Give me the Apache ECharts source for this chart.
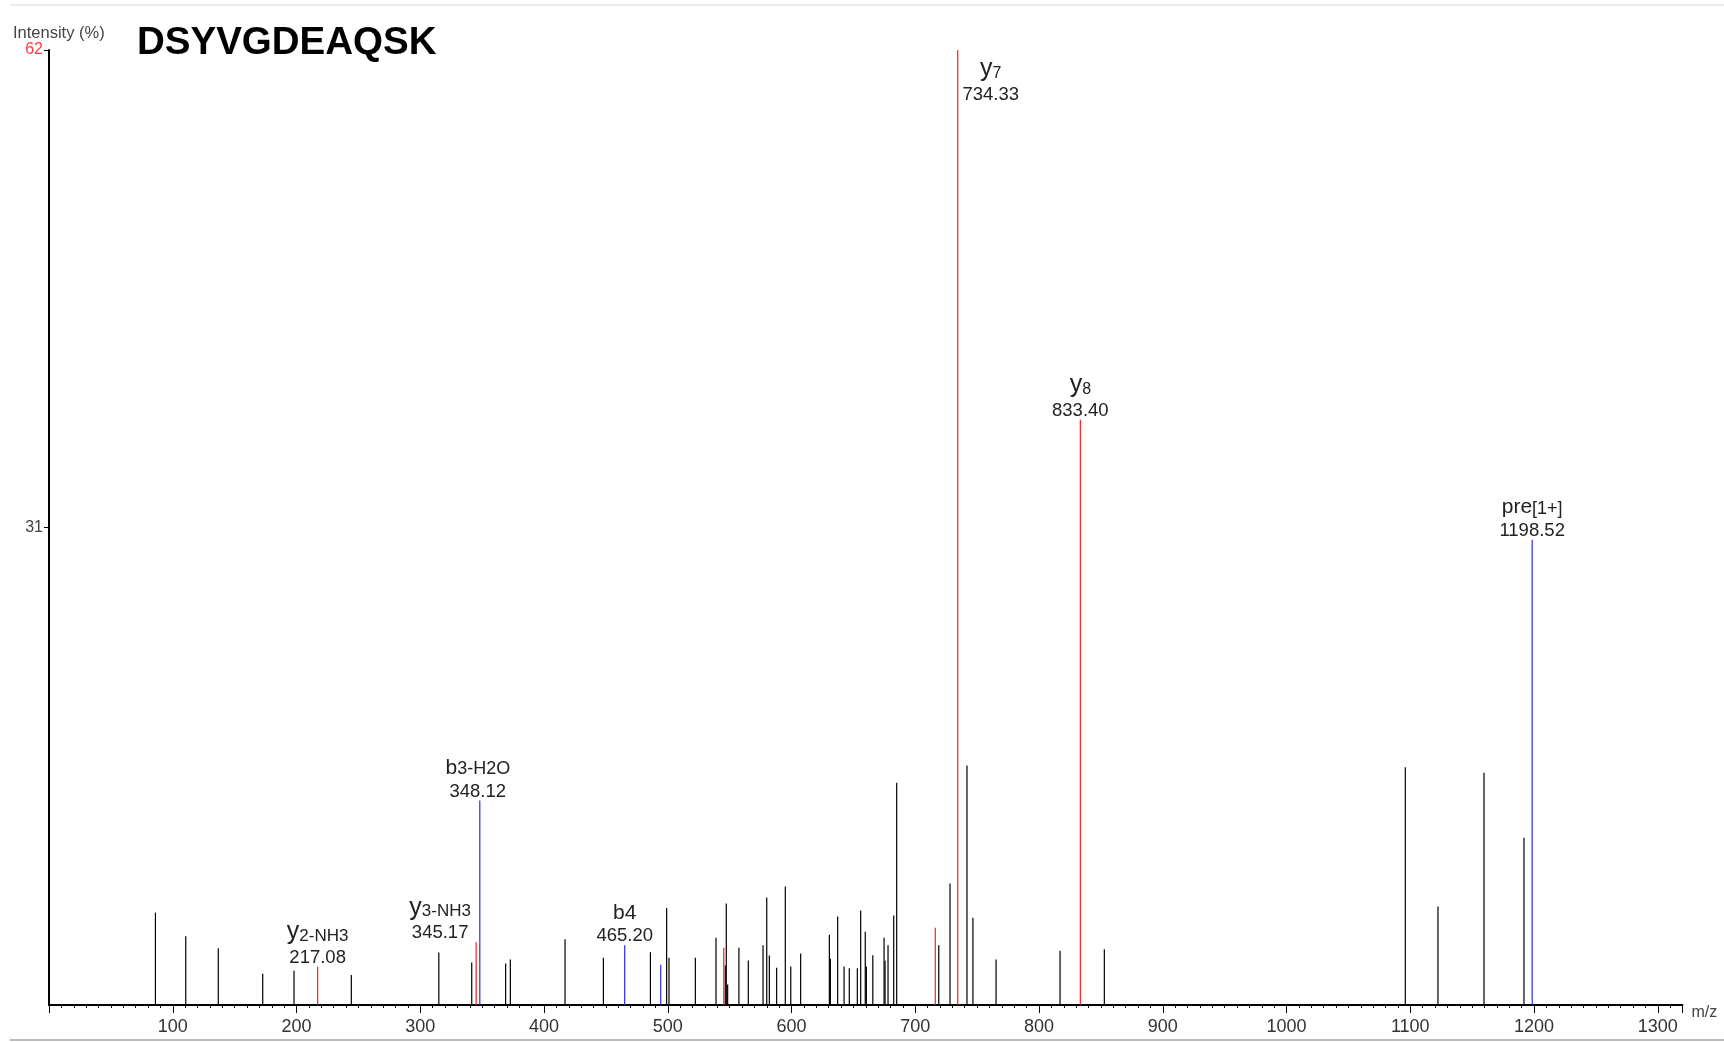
<!DOCTYPE html>
<html>
<head>
<meta charset="utf-8">
<script src="https://cdn.jsdelivr.net/npm/echarts@6/dist/echarts.min.js"></script>
<style>
html,body{margin:0;padding:0;background:#fff;}
#chart{width:1724px;height:1042px;}
</style>
</head>
<body>
<div id="chart"></div>
<script>
// ---------------- data ----------------
const peptide = 'DSYVGDEAQSK';
const yAxisTicks = [31, 62];
const xTickStep = 100;

// unassigned peaks (black)
const otherMz = [86.0, 110.5, 136.8, 172.7, 198.0, 244.3, 315.0, 341.6, 369.0, 372.8,
  417.0, 448.0, 486.0, 499.1, 501.0, 522.3, 539.0, 546.5, 547.3, 548.4,
  557.5, 565.1, 577.0, 580.0, 582.1, 588.0, 595.0, 599.4, 607.4, 630.6,
  631.4, 637.3, 642.5, 646.7, 653.2, 655.9, 659.6, 660.5, 665.7, 674.8,
  675.6, 678.0, 682.6, 685.0, 719.0, 728.1, 741.8, 746.6, 765.3, 817.0,
  852.8, 1096.0, 1122.4, 1159.6, 1191.9];
const otherInt = [6.0, 4.47, 3.69, 2.03, 2.22, 1.94, 3.41, 2.76, 2.69, 2.95,
  4.27, 3.06, 3.43, 6.29, 3.06, 3.06, 4.36, 2.56, 6.59, 1.33,
  3.71, 2.89, 3.88, 6.98, 3.21, 2.42, 7.69, 2.5, 3.34, 4.56,
  3.0, 5.75, 2.5, 2.39, 2.39, 6.14, 4.75, 2.5, 3.23, 4.36,
  2.87, 3.88, 5.81, 14.43, 3.88, 7.89, 15.55, 5.66, 2.95, 3.52,
  3.62, 15.44, 6.4, 15.08, 10.86];

// y-type ions (red)
const yIonMz = [217.08, 345.17, 545.3, 716.2, 734.33, 833.40];
const yIonInt = [2.48, 4.08, 3.71, 5.01, 62, 38.0];

// b-type ions and precursor (blue)
const bIonMz = [348.12, 465.20, 494.3, 1198.52];
const bIonInt = [13.28, 3.88, 2.61, 30.2];

// annotations
const annMz = [217.08, 345.17, 348.12, 465.20, 734.33, 833.40, 1198.52];
const annInt = [2.48, 4.08, 13.28, 3.88, 62, 38.0, 30.2];
const annIon = ['y', 'y', 'b', 'b4', 'y', 'y', 'pre'];
const annSuffix = ['2-NH3', '3-NH3', '3-H2O', '', '7', '8', '[1+]'];
const annValue = ['217.08', '345.17', '348.12', '465.20', '734.33', '833.40', '1198.52'];

// ---------------- chart ----------------
const FONT = '"Liberation Sans", Arial, Helvetica, sans-serif';
const chart = echarts.init(document.getElementById('chart'), null, {renderer: 'canvas'});

function stickSeries(name, mz, inten, color, width) {
  return {
    type: 'custom',
    name: name,
    data: mz.map((m, i) => [m, inten[i]]),
    encode: {x: 0, y: 1},
    z: 3,
    renderItem: function (params, api) {
      const p0 = api.coord([api.value(0), 0]);
      const p1 = api.coord([api.value(0), api.value(1)]);
      return {
        type: 'line',
        shape: {x1: p0[0], y1: p0[1], x2: p1[0], y2: p1[1]},
        style: {stroke: color, lineWidth: width}
      };
    }
  };
}

const richName = {
  yy: {fontSize: 25, fontFamily: FONT, color: '#222', lineHeight: 26, verticalAlign: 'bottom'},
  bb: {fontSize: 21, fontFamily: FONT, color: '#222', lineHeight: 22, verticalAlign: 'bottom'},
  sub: {fontSize: 17, fontFamily: FONT, color: '#222', lineHeight: 10, verticalAlign: 'bottom'},
  dig: {fontSize: 16, fontFamily: FONT, color: '#222', lineHeight: 10, verticalAlign: 'bottom'},
  suf: {fontSize: 18, fontFamily: FONT, color: '#222', lineHeight: 20, verticalAlign: 'bottom'},
  sm: {fontSize: 18, fontFamily: FONT, color: '#222', lineHeight: 21, verticalAlign: 'bottom'}
};

function nameText(i) {
  const ion = annIon[i];
  const suf = annSuffix[i];
  if (ion === 'y') return '{yy|y}{' + (suf.length === 1 ? 'dig' : 'sub') + '|' + suf + '}';
  if (ion === 'b') return '{bb|b}{suf|' + suf + '}';
  if (ion === 'pre') return '{bb|pre}{sm|' + suf + '}';
  return '{bb|' + ion + '}';
}

const labelSeries = {
  type: 'custom',
  name: 'labels',
  data: annMz.map((m, i) => [m, annInt[i], i]),
  encode: {x: 0, y: 1},
  z: 5,
  renderItem: function (params, api) {
    const i = api.value(2);
    const p = api.coord([api.value(0), api.value(1)]);
    let cx = p[0];
    let vy = p[1] - 9;
    if (annValue[i] === '734.33') { cx = p[0] + 33; vy = p[1] + 45; }
    if (annValue[i] === '345.17') { cx = p[0] - 36; }
    if (annValue[i] === '348.12') { cx = p[0] - 2; }
    return {
      type: 'group',
      children: [
        {
          type: 'text',
          x: cx, y: vy,
          style: {
            text: annValue[i], fill: '#222', fontSize: 18.5, fontFamily: FONT,
            align: 'center', verticalAlign: 'middle'
          }
        },
        {
          type: 'text',
          x: cx, y: vy - 13,
          style: {
            text: nameText(i), rich: richName, fill: '#222', fontFamily: FONT,
            align: 'center', verticalAlign: 'bottom'
          }
        }
      ]
    };
  }
};

const option = {
  backgroundColor: '#fff',
  animation: false,
  title: {
    text: peptide,
    left: 137, top: 24, padding: 0,
    textStyle: {fontSize: 38.5, fontWeight: 'bold', color: '#000', fontFamily: FONT}
  },
  grid: {left: 49, right: 41.5, top: 50, bottom: 37, containLabel: false},
  xAxis: {
    type: 'value',
    min: 0, max: 1320, interval: xTickStep,
    name: 'm/z', nameLocation: 'end', nameGap: 9,
    nameTextStyle: {fontSize: 16, color: '#444', fontFamily: FONT, verticalAlign: 'top'},
    axisLine: {show: true, lineStyle: {color: '#000', width: 2}},
    axisTick: {show: true, length: 8, lineStyle: {color: '#000', width: 1}},
    minorTick: {show: true, splitNumber: 10, length: 3, lineStyle: {color: '#000', width: 1}},
    axisLabel: {
      fontSize: 18, color: '#333', fontFamily: FONT, margin: 13,
      showMinLabel: false,
      formatter: v => (v === 0 ? '' : String(v))
    },
    splitLine: {show: false}
  },
  yAxis: {
    type: 'value',
    min: 0, max: yAxisTicks[1], interval: yAxisTicks[0],
    axisLine: {show: true, lineStyle: {color: '#000', width: 2}},
    axisTick: {show: true, length: 5, lineStyle: {color: '#000', width: 1}},
    axisLabel: {
      fontSize: 16, fontFamily: FONT, margin: 6,
      showMinLabel: false,
      color: v => (Number(v) === yAxisTicks[1] ? '#ff3b3b' : '#444'),
      formatter: v => (v === 0 ? '' : String(v))
    },
    splitLine: {show: false}
  },
  graphic: [
    {type: 'text', left: 13, top: 25, style: {text: 'Intensity (%)', fontSize: 16.5, fill: '#444', fontFamily: FONT}},
    {type: 'line', shape: {x1: 10, y1: 5, x2: 1724, y2: 5}, style: {stroke: '#ececec', lineWidth: 2}},
    {type: 'line', shape: {x1: 10, y1: 1040, x2: 1724, y2: 1040}, style: {stroke: '#bdbdbd', lineWidth: 2}}
  ],
  series: [
    stickSeries('other', otherMz, otherInt, '#000', 1.2),
    stickSeries('y ions', yIonMz, yIonInt, '#ff1a1a', 1.2),
    stickSeries('b ions', bIonMz, bIonInt, '#2a2aff', 1.2),
    labelSeries
  ]
};
chart.setOption(option);
</script>
</body>
</html>
